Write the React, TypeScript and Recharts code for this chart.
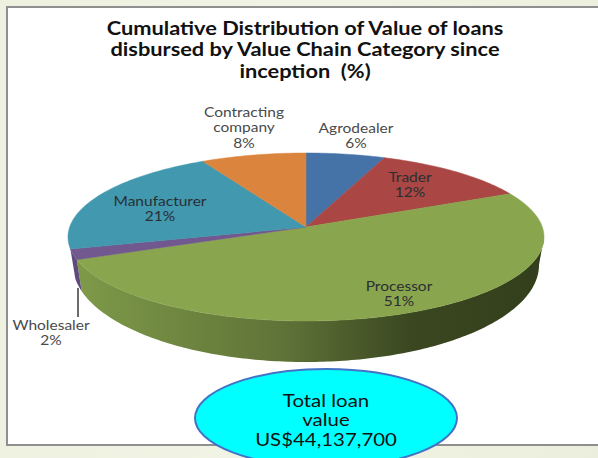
import React from 'react';
import { PieChart, Pie, Cell } from 'recharts';

const categories = ['Agrodealer', 'Trader', 'Processor', 'Wholesaler', 'Manufacturer', 'Contracting company'];
const shares = [6, 12, 51, 2, 21, 8];
const titleLines = ['Cumulative Distribution of Value of loans', 'disbursed by Value Chain Category since', 'inception  (%)'];
const calloutLines = ['Total loan', 'value', 'US$44,137,700'];

const topColors = ['#4572a7', '#aa4643', '#89a54e', '#71588f', '#4198af', '#db843d'];
const wallColors = ['#2f4d72', '#72302e', 'url(#processorWall)', '#5f4a79', '#2f7184', '#a0602c'];

const data = categories.map((name, i) => ({ name, value: shares[i] }));

// Tilted pie geometry
const CX = 306;
const CY = 237;
const RX = 238;
const RY = 84;
const FLOOR_RX = 233;
const APEX_Y = 227; // the perspective moves the visual centre up a bit
const WALL_FROM = 90;
const WALL_TO = 262; // the left silhouette ends before 9 o'clock

const rad = (d: number) => (d * Math.PI) / 180;

// Recharts angle -> clockwise from 12 o'clock, front of the pie stretched by perspective
const warp = (angle: number) => {
  const t = 90 - angle;
  return t - 6.4 * Math.sin(rad(t));
};

const rimPoint = (t: number) => ({ x: CX + RX * Math.sin(rad(t)), y: CY - RY * Math.cos(rad(t)) });
const floorPoint = (t: number) => ({
  x: CX + FLOOR_RX * Math.sin(rad(t)),
  y: CY + 28 - (RY + 13) * Math.cos(rad(t)),
});

const arcPoints = (from: number, to: number, pointFn: (t: number) => { x: number; y: number }) => {
  const pts: string[] = [];
  const n = Math.max(2, Math.ceil(Math.abs(to - from)));
  for (let i = 0; i <= n; i++) {
    const p = pointFn(from + ((to - from) * i) / n);
    pts.push(`${p.x.toFixed(2)} ${p.y.toFixed(2)}`);
  }
  return pts;
};

const TiltedSlice = (props: any) => {
  const t1 = warp(props.startAngle);
  const t2 = warp(props.endAngle);
  const w1 = Math.max(t1, WALL_FROM);
  const w2 = Math.min(t2, WALL_TO);
  const top = arcPoints(t1, t2, rimPoint);
  return (
    <g>
      {w2 > w1 && (
        <path
          d={`M${[...arcPoints(w1, w2, rimPoint), ...arcPoints(w2, w1, floorPoint)].join('L')}Z`}
          fill={wallColors[props.index]}
        />
      )}
      <path d={`M${CX} ${APEX_Y}L${top.join('L')}Z`} fill={props.fill} stroke={props.fill} strokeWidth={0.5} />
    </g>
  );
};

// Centred multi-line text, widened because the source picture is stretched sideways
const WideText = ({ x, y, lines, pitch, stretch, ...rest }: any) => (
  <text transform={`translate(${x} 0) scale(${stretch} 1)`} textAnchor="middle" fontFamily="Lato" xmlSpace="preserve" {...rest}>
    {lines.map((line: string, i: number) => (
      <tspan key={line} x={0} y={y + i * pitch}>{line}</tspan>
    ))}
  </text>
);

// Where each category's text sits (centre x, first baseline y)
const labelSpots: Record<string, [number, number]> = {
  Agrodealer: [356, 133],
  Trader: [410, 182],
  Processor: [399, 291],
  Wholesaler: [51, 330],
  Manufacturer: [160, 206],
  'Contracting company': [244, 117],
};

const renderLabel = (props: any) => {
  const name: string = props.name;
  const [x, y] = labelSpots[name];
  const lines = name === 'Contracting company' ? ['Contracting', 'company'] : [name];
  const dark = name === 'Trader' || name === 'Manufacturer' || name === 'Processor';
  return (
    <WideText
      key={name}
      x={x}
      y={y}
      lines={[...lines, `${props.value}%`]}
      pitch={15.3}
      stretch={1.15}
      fontSize={13.5}
      fill={dark ? '#2b2f33' : '#4a4a4a'}
    />
  );
};

export default function App() {
  return (
    <div style={{ position: 'absolute', left: 0, top: 0, width: 598, height: 458, overflow: 'hidden', background: 'linear-gradient(100deg, #eef1e0, #f1f3e4 50%, #eceedd)' }}>
      <div style={{ position: 'absolute', left: 6, top: 6, width: 600, height: 436, background: '#fff', border: '2px solid #8f8f8f', boxSizing: 'content-box' }} />
      <div style={{ position: 'absolute', left: 0, top: 0 }}>
        <PieChart width={598} height={458} margin={{ top: 0, right: 0, bottom: 0, left: 0 }}>
          <defs>
            <linearGradient id="processorWall" gradientUnits="userSpaceOnUse" x1="70" y1="0" x2="544" y2="0">
              <stop offset="0%" stopColor="#7f9b49" />
              <stop offset="45%" stopColor="#5f7338" />
              <stop offset="72%" stopColor="#3a4720" />
              <stop offset="100%" stopColor="#333f1c" />
            </linearGradient>
          </defs>
          <WideText x={305} y={35} lines={titleLines} pitch={21.5} stretch={1.118} fontWeight={700} fontSize={19.5} fill="#111" />
          <Pie
            data={data}
            dataKey="value"
            nameKey="name"
            cx={CX}
            cy={CY}
            outerRadius={RX}
            startAngle={90}
            endAngle={-270}
            shape={TiltedSlice}
            label={renderLabel}
            labelLine={false}
            isAnimationActive={false}
          >
            {data.map((d, i) => (
              <Cell key={d.name} fill={topColors[i]} />
            ))}
          </Pie>
          <line x1={78} y1={288} x2={78} y2={317} stroke="#3a3a3a" strokeWidth={1.5} />
          <ellipse cx={326} cy={418} rx={131} ry={49} fill="#00ffff" stroke="#4472c4" strokeWidth={2} />
          <WideText x={326} y={407} lines={calloutLines} pitch={19.5} stretch={1.2} fontSize={17} fill="#111" />
        </PieChart>
      </div>
    </div>
  );
}
